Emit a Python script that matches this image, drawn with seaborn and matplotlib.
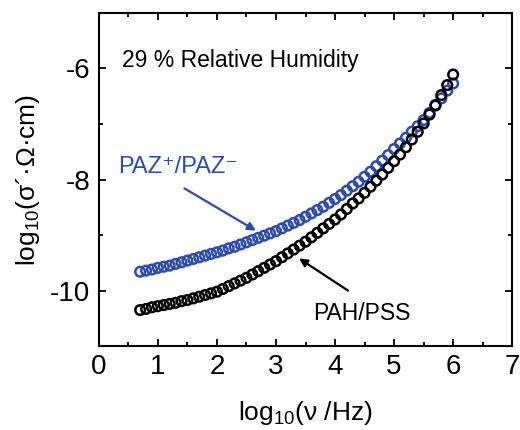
import numpy as np
import pandas as pd
import matplotlib
matplotlib.use("Agg")
import matplotlib.pyplot as plt
import seaborn as sns

# log10 of frequency (Hz)
log_freq = [0.7, 0.8, 0.9, 1.0, 1.1, 1.2, 1.3, 1.4, 1.5, 1.6,
            1.7, 1.8, 1.9, 2.0, 2.1, 2.2, 2.3, 2.4, 2.5, 2.6,
            2.7, 2.8, 2.9, 3.0, 3.1, 3.2, 3.3, 3.4, 3.5, 3.6,
            3.7, 3.8, 3.9, 4.0, 4.1, 4.2, 4.3, 4.4, 4.5, 4.6,
            4.7, 4.8, 4.9, 5.0, 5.1, 5.2, 5.3, 5.4, 5.5, 5.6,
            5.7, 5.8, 5.9, 6.0]

# log10 conductivity, PAZ+/PAZ- (blue)
paz_sigma = [-9.66, -9.64, -9.62, -9.59, -9.57, -9.55, -9.52, -9.49, -9.46, -9.43,
             -9.40, -9.37, -9.34, -9.31, -9.28, -9.24, -9.21, -9.17, -9.13, -9.09,
             -9.05, -9.01, -8.97, -8.93, -8.88, -8.83, -8.78, -8.73, -8.67, -8.61,
             -8.55, -8.49, -8.42, -8.35, -8.28, -8.20, -8.12, -8.04, -7.95, -7.86,
             -7.76, -7.66, -7.56, -7.45, -7.35, -7.25, -7.14, -7.04, -6.93, -6.80,
             -6.67, -6.54, -6.40, -6.27]

# log10 conductivity, PAH/PSS (black)
pah_sigma = [-10.35, -10.33, -10.30, -10.28, -10.26, -10.24, -10.22, -10.19, -10.17, -10.14,
             -10.11, -10.08, -10.05, -10.02, -9.97, -9.92, -9.87, -9.82, -9.77, -9.71,
             -9.65, -9.59, -9.53, -9.47, -9.40, -9.33, -9.26, -9.19, -9.12, -9.04,
             -8.96, -8.88, -8.80, -8.72, -8.63, -8.53, -8.43, -8.34, -8.24, -8.13,
             -8.02, -7.91, -7.79, -7.67, -7.55, -7.42, -7.28, -7.14, -6.99, -6.83,
             -6.66, -6.48, -6.30, -6.11]

blue = "#2d4bab"

sns.set_style("ticks")
plt.rcParams['font.family'] = ['Liberation Sans', 'DejaVu Sans']
plt.rcParams['mathtext.fontset'] = 'custom'
plt.rcParams['mathtext.rm'] = 'Liberation Sans'
plt.rcParams['mathtext.it'] = 'Liberation Sans'
plt.rcParams['axes.unicode_minus'] = False
plt.rcParams['text.color'] = 'black'
plt.rcParams['axes.labelcolor'] = 'black'
plt.rcParams['xtick.color'] = 'black'
plt.rcParams['ytick.color'] = 'black'
plt.rcParams['axes.edgecolor'] = 'black'

df = pd.DataFrame({"x": log_freq, "paz": paz_sigma, "pah": pah_sigma})

fig = plt.figure(figsize=(5.2, 4.3), dpi=100)
ax = fig.add_axes([0.190, 0.195, 0.795, 0.775])

sns.scatterplot(data=df, x="x", y="paz", ax=ax, marker="o", s=48,
                facecolor="none", edgecolor=blue, linewidth=1.8)
sns.scatterplot(data=df, x="x", y="pah", ax=ax, marker="o", s=48,
                facecolor="none", edgecolor="black", linewidth=1.8)

ax.set_xlim(0, 7)
ax.set_ylim(-11, -5)
ax.set_xticks([0, 1, 2, 3, 4, 5, 6, 7])
ax.set_xticks(np.arange(0.5, 7, 1.0), minor=True)
ax.set_yticks([-10, -8, -6])
ax.set_yticks([-11, -9, -7, -5], minor=True)
ax.tick_params(which="both", direction="in", top=True, right=True, width=1.3)
ax.tick_params(which="major", length=5, labelsize=20, pad=6)
ax.tick_params(which="minor", length=3)
for s in ax.spines.values():
    s.set_linewidth(1.5)

ax.set_xlabel(r"log$_{10}$($\nu$ /Hz)", fontsize=19, labelpad=13)
ax.set_ylabel(r"log$_{10}$(σ´·Ω·cm)", fontsize=19, labelpad=6)

ax.text(0.40, -5.85, "29 % Relative Humidity", fontsize=16.5, va="center", ha="left")
ax.text(0.32, -7.78, "PAZ⁺/PAZ⁻", fontsize=17, color=blue,
        ha="left", va="center")
ax.annotate("", xy=(2.66, -8.92), xytext=(1.45, -8.16),
            arrowprops=dict(arrowstyle="-|>", color=blue, lw=1.6,
                            mutation_scale=12, shrinkA=0, shrinkB=0))
ax.text(4.45, -10.41, "PAH/PSS", fontsize=16.5, ha="center", va="center")
ax.annotate("", xy=(3.39, -9.42), xytext=(4.22, -10.0),
            arrowprops=dict(arrowstyle="-|>", color="black", lw=1.6,
                            mutation_scale=12, shrinkA=0, shrinkB=0))

fig.savefig("out.png", dpi=100)
